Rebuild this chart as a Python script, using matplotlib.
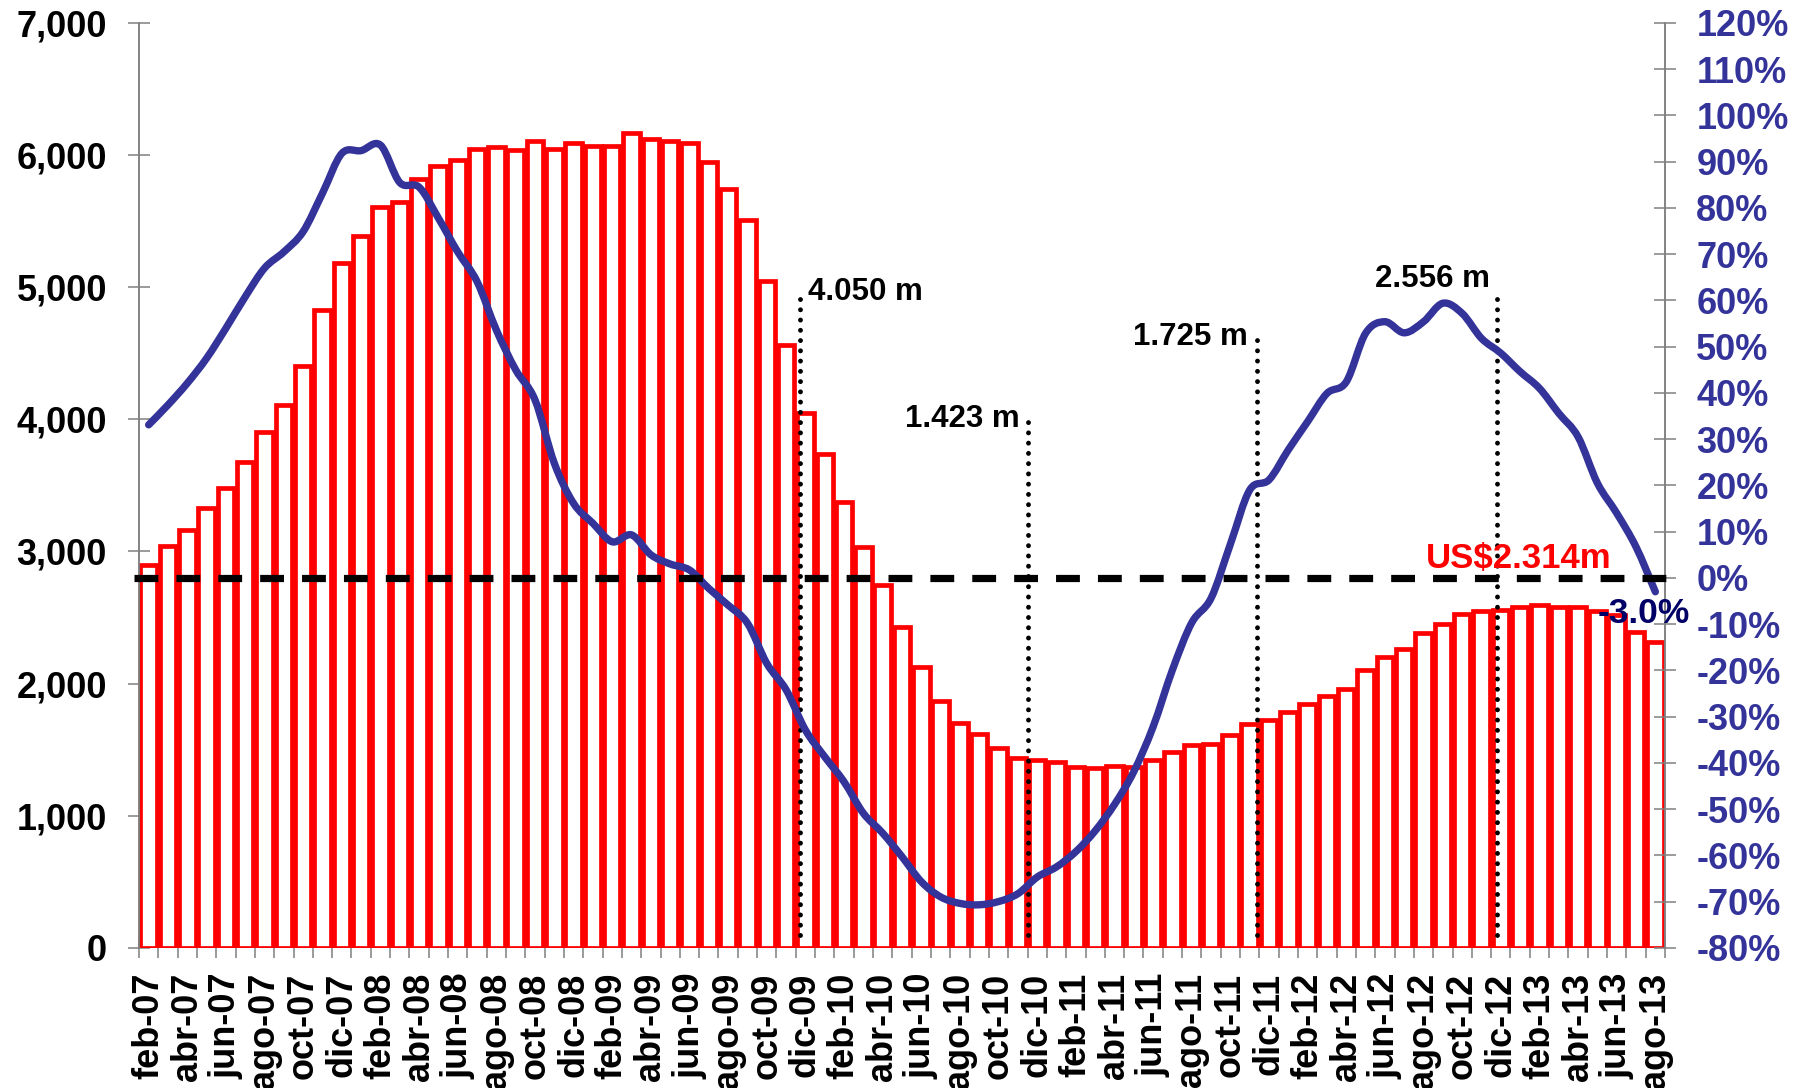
import matplotlib
matplotlib.use("Agg")
import matplotlib.pyplot as plt
from matplotlib.path import Path
from matplotlib.patches import PathPatch
from matplotlib.ticker import FuncFormatter, FixedLocator

plt.rcParams['font.family'] = ['Liberation Sans', 'DejaVu Sans']
plt.rcParams['font.weight'] = 'bold'

# month labels feb-07 .. ago-13
month_names = ['ene', 'feb', 'mar', 'abr', 'may', 'jun',
               'jul', 'ago', 'sep', 'oct', 'nov', 'dic']
months = []
for yr in range(7, 14):
    for m in month_names:
        months.append(f'{m}-{yr:02d}')
months = months[1:months.index('ago-13') + 1]

# stock (US$ millones) - left axis bars
stock = [2900, 3040, 3160, 3330, 3480, 3680, 3905, 4105, 4400, 4830,
         5180, 5385, 5605, 5645, 5820, 5920, 5965, 6050, 6060, 6040,
         6110, 6050, 6090, 6070, 6070, 6170, 6120, 6105, 6090, 5950,
         5740, 5510, 5045, 4565, 4050, 3735, 3375, 3035, 2745, 2425,
         2125, 1870, 1698, 1618, 1515, 1438, 1423, 1409, 1371, 1364,
         1379, 1371, 1421, 1485, 1535, 1543, 1611, 1692, 1725, 1787,
         1843, 1908, 1959, 2102, 2201, 2262, 2386, 2451, 2523, 2550,
         2556, 2577, 2595, 2577, 2577, 2552, 2520, 2393, 2314]

# year-on-year change (%) - right axis line
growth = [33.1, 37.4, 42.1, 47.5, 54.0, 60.8, 67.0, 70.5, 74.9, 83.2,
          91.8, 92.4, 93.6, 85.5, 84.5, 77.8, 70.5, 64.1, 53.6, 45.0,
          38.5, 24.8, 16.1, 11.8, 7.8, 9.3, 5.0, 3.0, 1.7, -2.3,
          -5.9, -9.8, -18.5, -24.2, -32.9, -38.7, -44.1, -50.9, -55.2, -60.3,
          -65.7, -69.0, -70.4, -70.7, -70.0, -68.3, -64.7, -62.5, -59.2, -54.7,
          -49.0, -41.9, -32.2, -19.9, -9.7, -4.4, 7.3, 19.0, 21.2, 27.7,
          33.8, 39.9, 42.4, 52.9, 55.4, 53.0, 55.4, 59.4, 57.2, 51.8,
          48.6, 44.6, 41.0, 35.6, 30.5, 20.5, 14.0, 6.7, -3.0]

# december markers
mark_months = ['dic-09', 'dic-10', 'dic-11', 'dic-12']
mark_labels = ['4.050 m', '1.423 m', '1.725 m', '2.556 m']
last_label = 'US$2.314m'
last_growth_label = '-3.0%'

x = list(range(len(months)))
gray = '#808080'
blue = '#333399'

fig = plt.figure(figsize=(18.1, 10.88), dpi=100)
ax = fig.add_axes([139 / 1810, 1 - 947.8 / 1088, 1526 / 1810, 924.8 / 1088])
ax2 = ax.twinx()

ax.bar(x, stock, width=0.85, color='white', edgecolor='#ff0000',
       linewidth=3.4, zorder=2)
ax.set_xlim(-0.5, len(months) - 0.5)
ax.set_ylim(0, 7000)
ax.set_yticks(range(0, 7001, 1000))
ax.yaxis.set_major_formatter(FuncFormatter(lambda v, p: f'{v:,.0f}'))

ax.set_xticks(x[::2])
ax.set_xticklabels(months[::2], rotation=90)
ax.xaxis.set_minor_locator(FixedLocator([i - 0.5 for i in range(len(months) + 1)]))
ax.tick_params(axis='x', which='major', length=0, pad=18, labelsize=26)
ax.tick_params(axis='x', which='minor', direction='inout', length=15,
               width=1.1, color=gray)
ax.tick_params(axis='y', direction='inout', length=16, width=1.1,
               color=gray, pad=15, labelsize=26)

for a in (ax, ax2):
    a.spines['top'].set_visible(False)
    a.spines['bottom'].set_visible(False)
    a.spines['left'].set_color(gray)
    a.spines['right'].set_color(gray)
    a.spines['left'].set_linewidth(1.1)
    a.spines['right'].set_linewidth(1.1)

# dotted marker lines and labels
line_tops = [4950, 3990, 4600, 4950]
line_offsets = [-0.26, -0.5, -0.64, -0.2]
text_pos = [(34.11, 4904, 'left'), (45.12, 3944, 'right'),
            (56.93, 4563, 'right'), (69.45, 5005, 'right')]
for mm, lab, top, off, (tx, ty, ha) in zip(mark_months, mark_labels,
                                           line_tops, line_offsets, text_pos):
    i = months.index(mm)
    ax.plot([i + off, i + off], [100, top], color='black', lw=3.5,
            linestyle=(0, (0.01, 2.1)), dash_capstyle='round', zorder=5)
    ax.text(tx, ty, lab, ha=ha, va='baseline', fontsize=22.5,
            fontweight='bold', color='black', zorder=6)

ax.text(75.74, 2873, last_label, ha='right', va='baseline', fontsize=25,
        fontweight='bold', color='#ff0000', zorder=6)

# right axis: growth line, drawn smoothed (Bezier through the points)
verts = [(x[0], growth[0])]
codes = [Path.MOVETO]
n = len(x)
for k in range(n - 1):
    p0 = (x[max(k - 1, 0)], growth[max(k - 1, 0)])
    p1 = (x[k], growth[k])
    p2 = (x[k + 1], growth[k + 1])
    p3 = (x[min(k + 2, n - 1)], growth[min(k + 2, n - 1)])
    c1 = (p1[0] + (p2[0] - p0[0]) / 6, p1[1] + (p2[1] - p0[1]) / 6)
    c2 = (p2[0] - (p3[0] - p1[0]) / 6, p2[1] - (p3[1] - p1[1]) / 6)
    verts += [c1, c2, p2]
    codes += [Path.CURVE4] * 3
ax2.add_patch(PathPatch(Path(verts, codes), facecolor='none', edgecolor=blue,
                        lw=5.3, joinstyle='round', capstyle='round', zorder=3))
ax2.plot([-0.76, len(months) - 0.33], [0, 0], color='black', lw=5.2,
         linestyle=(0, (3.3, 2.5)), clip_on=False, zorder=4)
ax2.set_ylim(-80, 120)
ax2.set_yticks(range(-80, 121, 10))
ax2.yaxis.set_major_formatter(FuncFormatter(lambda v, p: f'{v:.0f}%'))
ax2.tick_params(axis='y', direction='inout', length=16, width=1.1,
                color=gray, pad=14.5, labelsize=26, labelcolor=blue)
ax2.text(75.0, -9.8, last_growth_label, ha='left', va='baseline',
         fontsize=25.5, fontweight='bold', color='#000066', clip_on=False,
         zorder=6)

for lbl in ax.get_xticklabels() + ax.get_yticklabels() + ax2.get_yticklabels():
    lbl.set_fontweight('bold')

fig.savefig('out.png', dpi=100)
